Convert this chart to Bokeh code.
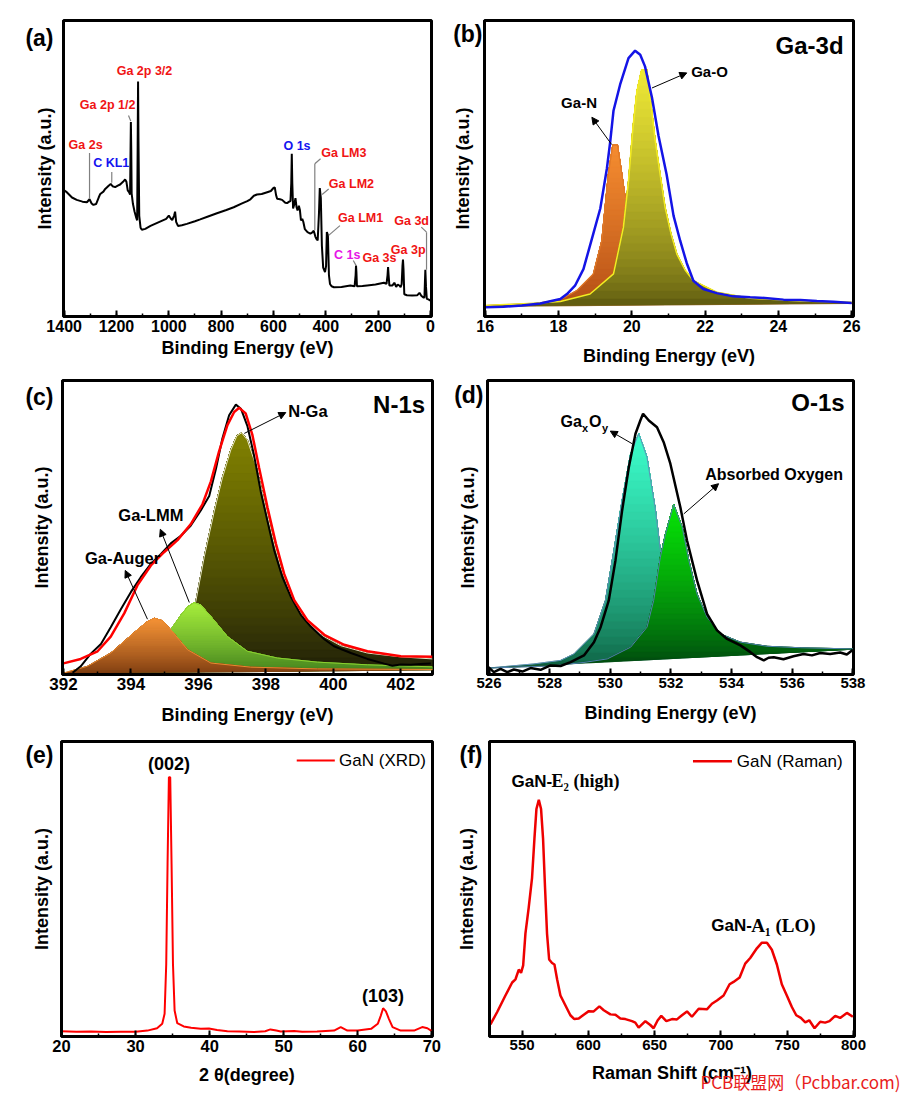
from bokeh.plotting import figure
from bokeh.models import (Range1d, SingleIntervalTicker, FixedTicker, Label, Arrow,
                          NormalHead, ColumnDataSource, LinearAxis)
from bokeh.layouts import column, row
from bokeh.embed import file_html
from bokeh.resources import INLINE
import numpy as np

SANS = "Liberation Sans"
SERIF = "Liberation Serif"

# ---------------- (a) survey spectrum ----------------
a_be = [1400, 1390, 1370, 1352, 1330, 1313, 1303, 1295, 1288, 1278, 1268, 1262, 1250, 1243, 1230, 1222,
        1215, 1205, 1195, 1186, 1175, 1167, 1162, 1157, 1152, 1148, 1146, 1145, 1143.5, 1142, 1137, 1131,
        1125, 1121, 1119, 1117.5, 1116, 1113, 1108, 1103, 1090, 1070, 1040, 1010, 1000, 992, 987, 980,
        976, 972, 965, 950, 931, 900, 880, 850, 816, 780, 752, 720, 700, 688, 675, 663, 645, 624, 610,
        600, 595, 590, 586, 575, 567, 555, 548, 540, 535, 532, 530, 528, 525, 520, 516, 512, 508, 503,
        499, 495, 490, 486, 480, 470, 459, 450, 446, 440, 436, 431, 426, 423, 419, 415, 410, 403, 399,
        396, 392, 388, 384, 378, 369, 340, 306, 290, 286, 284.5, 283, 281, 260, 242, 210, 178, 168, 164,
        162, 160, 157, 145, 138, 131, 125, 118, 114, 110, 107, 105, 103, 100, 90, 70, 50, 42, 35, 27,
        23, 21, 19.5, 17, 14, 8, 0]
a_int = [42.6, 42.0, 40.2, 39.4, 38.8, 38.6, 39.6, 38.2, 37.7, 38.0, 40.2, 41.4, 42.2, 43.1, 44.2, 44.8,
         44.0, 43.7, 44.2, 44.6, 45.5, 46.3, 45.5, 42.6, 42.0, 41.2, 58.0, 65.7, 56.0, 41.5, 38.0, 35.5,
         33.5, 32.5, 58.0, 79.4, 60.0, 34.0, 30.0, 29.3, 29.6, 30.6, 31.8, 33.0, 34.1, 33.0, 32.6, 34.0,
         35.4, 32.0, 30.6, 30.8, 31.3, 32.2, 32.8, 33.8, 34.9, 36.0, 36.9, 38.2, 39.0, 39.6, 40.8, 41.2,
         41.4, 42.0, 42.4, 43.4, 43.6, 41.0, 39.8, 39.6, 39.4, 38.4, 38.3, 38.8, 39.0, 45.0, 55.0, 45.0,
         36.5, 38.0, 40.0, 37.0, 35.8, 37.4, 36.0, 32.5, 33.0, 32.0, 29.5, 28.5, 28.0, 28.5, 29.0, 27.0,
         26.2, 25.7, 35.0, 43.4, 40.0, 24.0, 16.5, 15.0, 17.0, 28.5, 27.5, 14.0, 11.0, 10.2, 9.9, 10.0,
         10.5, 10.2, 14.0, 17.2, 15.0, 10.2, 10.3, 10.5, 10.8, 11.4, 11.0, 14.0, 16.7, 14.0, 10.5, 10.5,
         11.4, 10.0, 10.8, 10.4, 9.9, 11.0, 17.0, 19.2, 16.0, 7.5, 7.2, 7.1, 7.2, 8.0, 7.0, 6.4, 6.4,
         12.0, 15.8, 10.0, 6.0, 5.8, 5.4]
a_labels = ["Ga 2p 3/2", "Ga 2p 1/2", "Ga 2s", "C KL1", "O 1s", "Ga LM3", "Ga LM2", "Ga LM1",
            "Ga 3d", "Ga 3p", "C 1s", "Ga 3s"]
a_label_be = [1093, 1234, 1318, 1220, 510, 331, 302, 267, 72, 85, 318, 195]
a_label_int = [83.1, 71.3, 57.8, 51.8, 57.5, 55.3, 44.6, 33.2, 32.4, 22.5, 20.8, 19.7]
a_label_color = ["#f01414", "#f01414", "#f01414", "#1414f0", "#1414f0", "#f01414", "#f01414",
                 "#f01414", "#f01414", "#f01414", "#e614e6", "#f01414"]

# ---------------- (b) Ga-3d ----------------
b_env_be = [16.0, 16.5, 17.0, 17.5, 18.05, 18.23, 18.45, 18.68, 18.95, 19.14, 19.32, 19.41, 19.5, 19.68,
            19.91, 20.09, 20.23, 20.36, 20.55, 20.73, 20.95, 21.14, 21.32, 21.5, 21.68, 21.95, 22.32,
            22.77, 23.23, 23.7, 24.14, 24.6, 25.05, 25.5, 26.0]
b_env_int = [3.1, 3.3, 3.7, 4.4, 5.9, 7.6, 10.4, 16.0, 28.0, 36.5, 50.0, 59.0, 69.5, 78.3, 87.3, 89.8,
             88.4, 84.5, 74.0, 61.0, 48.0, 34.0, 25.6, 18.0, 12.1, 9.3, 7.9, 6.8, 6.5, 6.2, 5.7, 5.6,
             5.2, 5.0, 4.6]
b_gan_be = [16.0, 17.32, 18.05, 18.5, 18.95, 19.18, 19.27, 19.36, 19.48, 19.61, 19.73, 19.82, 19.95,
            20.14, 20.5, 21.23, 22.32, 26.0]
b_gan_int = [3.7, 4.3, 5.7, 8.8, 14.4, 25.6, 36.8, 48.0, 57.9, 57.9, 48.0, 40.2, 27.8, 17.7, 9.9, 5.9,
             4.8, 4.5]
b_gao_be = [16.0, 17.32, 18.05, 18.86, 19.5, 19.77, 19.91, 20.03, 20.14, 20.27, 20.41, 20.52, 20.64,
            20.78, 20.91, 21.07, 21.23, 21.45, 21.68, 22.32, 23.23, 24.59, 26.0]
b_gao_int = [3.7, 4.5, 5.1, 7.6, 14.4, 30.1, 45.8, 63.7, 76.1, 83.4, 83.4, 72.0, 59.3, 47.5, 36.8, 28.0,
             21.1, 15.8, 12.1, 8.2, 6.2, 5.2, 4.8]
b_base_be = [16.0, 26.0]
b_base_int = [3.4, 4.4]

# ---------------- (c) N-1s ----------------
c_raw_be = [392.27, 392.51, 392.81, 393.11, 393.4, 393.7, 394.0, 394.29, 394.59, 394.89, 395.18, 395.48,
            395.77, 396.07, 396.32, 396.52, 396.71, 396.91, 397.11, 397.26, 397.45, 397.65, 397.85,
            398.05, 398.25, 398.49, 398.74, 399.04, 399.33, 399.73, 400.02, 400.52, 401.01, 401.51,
            401.75, 402.0, 402.3, 402.59, 402.89]
c_raw_int = [0.6, 2.8, 7.1, 10.4, 16.1, 22.2, 28.1, 33.1, 37.6, 41.0, 44.6, 47.2, 50.6, 55.8, 60.7, 70.0,
             80.3, 88.2, 91.8, 90.4, 84.6, 74.5, 62.1, 52.0, 42.1, 33.1, 26.4, 20.2, 16.3, 12.0, 9.6,
             7.3, 5.3, 3.7, 3.0, 3.4, 3.3, 3.6, 3.7]
c_fit_be = [391.97, 392.51, 393.01, 393.4, 393.8, 394.19, 394.59, 394.98, 395.38, 395.77, 396.12,
            396.37, 396.61, 396.86, 397.06, 397.21, 397.4, 397.6, 397.8, 398.05, 398.3, 398.54, 398.84,
            399.23, 399.73, 400.32, 401.01, 402.0, 402.94]
c_fit_int = [3.7, 5.3, 7.9, 12.9, 20.8, 30.3, 37.1, 41.6, 45.7, 51.1, 57.9, 65.7, 75.8, 84.8, 89.3, 90.7,
             88.8, 81.5, 70.2, 56.7, 44.4, 34.3, 25.3, 18.5, 13.5, 10.1, 7.9, 6.2, 6.0]
c_nga_be = [391.97, 393.6, 394.59, 395.18, 395.68, 395.92, 396.17, 396.47, 396.71, 396.96, 397.14,
            397.28, 397.45, 397.7, 397.95, 398.2, 398.44, 398.74, 399.13, 399.63, 400.22, 401.01, 402.0,
            402.94]
c_nga_int = [0.4, 1.5, 2.8, 5.3, 10.7, 24.7, 39.9, 55.6, 66.9, 76.4, 81.2, 82.2, 79.8, 71.3, 59.0, 46.6,
             36.5, 27.0, 19.1, 13.5, 9.8, 7.3, 6.0, 5.3]
c_lmm_be = [391.97, 393.6, 394.39, 394.79, 395.18, 395.48, 395.68, 395.87, 396.07, 396.37, 396.86,
            397.45, 398.34, 399.53, 401.01, 402.94]
c_lmm_int = [0.3, 1.1, 2.6, 5.6, 15.2, 20.2, 23.0, 24.4, 23.6, 19.7, 12.9, 7.9, 5.6, 4.2, 3.3, 2.6]
c_aug_be = [391.97, 392.71, 393.4, 394.19, 394.49, 394.69, 394.93, 395.18, 395.68, 396.37, 397.55,
            399.53, 402.94]
c_aug_int = [0.4, 2.8, 7.3, 15.2, 18.0, 19.1, 18.3, 15.2, 8.4, 3.9, 2.5, 1.9, 1.7]
c_base_be = [391.97, 402.94]
c_base_int = [0.3, 1.6]

# ---------------- (d) O-1s ----------------
d_raw_be = [525.98, 526.16, 526.38, 526.6, 526.82, 527.1, 527.37, 527.7, 528.03, 528.36, 528.69, 529.13,
            529.46, 529.68, 529.95, 530.17, 530.39, 530.61, 530.83, 530.99, 531.08, 531.27, 531.54,
            531.76, 531.98, 532.31, 532.53, 532.86, 533.19, 533.52, 533.85, 534.29, 534.62, 534.84,
            535.06, 535.22, 535.39, 535.71, 536.04, 536.37, 536.65, 536.92, 537.25, 537.58, 537.8, 538.0]
d_raw_int = [2.5, 0.8, 1.9, 0.8, 1.7, 1.0, 2.2, 1.6, 3.1, 2.9, 4.2, 6.5, 11.0, 16.1, 25.2, 38.8, 55.8,
             70.5, 81.9, 86.4, 88.7, 86.4, 84.1, 79.0, 71.7, 56.9, 45.6, 32.0, 20.6, 15.0, 12.1, 9.9,
             7.6, 5.9, 4.8, 5.7, 5.9, 5.2, 6.2, 7.0, 6.5, 7.3, 7.0, 7.5, 6.8, 8.4]
d_gaxoy_be = [525.98, 527.48, 528.36, 528.8, 529.46, 529.84, 530.12, 530.39, 530.67, 530.94, 531.21,
              531.49, 531.65, 531.87, 532.15, 532.53, 533.08, 534.07, 535.71, 538.0]
d_gaxoy_int = [2.2, 3.6, 4.8, 7.0, 13.8, 25.2, 42.2, 59.2, 75.1, 81.9, 73.9, 55.8, 42.2, 28.6, 18.9,
               13.3, 10.4, 8.7, 8.2, 8.6]
d_abs_be = [525.98, 528.03, 529.13, 529.9, 530.67, 531.21, 531.43, 531.65, 531.82, 532.09, 532.37,
            532.59, 532.86, 533.19, 533.63, 534.29, 535.17, 536.26, 538.0]
d_abs_int = [2.2, 2.9, 4.1, 5.3, 9.3, 16.1, 25.2, 39.9, 47.8, 57.8, 50.1, 38.8, 27.4, 19.5, 13.8, 11.0,
             9.6, 9.1, 8.7]
d_base_be = [525.98, 538.0]
d_base_int = [2.2, 8.6]

# ---------------- (e) XRD ----------------
e_theta = [20.0, 22.0, 24.0, 26.0, 28.0, 30.0, 31.6, 32.9, 33.6, 33.92, 34.14, 34.32, 34.5, 34.68, 34.86,
           35.05, 35.27, 35.63, 36.5, 37.5, 38.8, 39.9, 41.0, 42.4, 44.0, 46.0, 47.5, 48.2, 49.0, 49.6,
           51.4, 52.5, 54.5, 56.8, 57.7, 58.6, 60.0, 61.8, 62.7, 63.1, 63.42, 63.8, 64.2, 64.7, 65.8,
           67.6, 68.7, 69.4, 70.0]
e_int = [1.8, 1.6, 1.7, 1.5, 1.6, 1.6, 2.0, 2.8, 4.3, 7.7, 24.6, 58.5, 87.9, 87.9, 58.5, 24.6, 8.8, 4.5,
         3.4, 3.0, 2.6, 2.7, 2.2, 1.8, 1.7, 1.5, 1.8, 2.4, 2.0, 1.7, 1.9, 1.6, 1.7, 2.0, 3.2, 2.0, 2.0,
         2.6, 4.3, 7.0, 9.6, 8.5, 6.0, 3.2, 2.0, 2.0, 3.2, 2.8, 1.8]

# ---------------- (f) Raman ----------------
f_shift = [526.1, 531.2, 537.4, 542.5, 545.0, 547.5, 549.2, 550.8, 552.5, 555.0, 557.5, 559.3, 560.8,
           562.6, 564.3, 565.8, 567.3, 568.8, 570.4, 572.6, 574.4, 576.4, 578.9, 582.7, 586.4, 589.4,
           592.7, 596.5, 600.3, 604.0, 608.3, 611.6, 616.6, 620.4, 624.1, 627.9, 632.9, 635.4, 637.9,
           643.0, 646.7, 649.2, 652.3, 655.0, 658.8, 663.1, 666.8, 670.6, 674.4, 678.1, 683.2, 689.4,
           693.2, 697.0, 702.0, 706.5, 709.5, 714.1, 718.3, 722.1, 727.1, 730.9, 734.7, 738.4, 742.2,
           745.9, 749.7, 753.5, 756.8, 760.3, 763.6, 766.6, 770.6, 774.9, 778.6, 781.9, 786.2, 789.9,
           795.0, 799.5]
f_int = [4.1, 8.3, 13.9, 18.3, 19.4, 22.7, 21.6, 24.1, 34.9, 43.8, 53.8, 67.1, 77.1, 80.2, 77.1, 67.1,
         50.4, 34.9, 26.1, 24.9, 24.4, 19.4, 13.9, 10.5, 7.2, 5.9, 6.1, 7.4, 8.6, 8.5, 10.2, 8.9, 7.5,
         7.4, 6.1, 5.9, 5.2, 4.7, 3.0, 5.2, 3.9, 2.8, 5.5, 7.0, 5.2, 5.9, 5.8, 7.2, 8.5, 6.7, 9.4, 9.2,
         11.1, 12.2, 13.9, 17.7, 18.5, 20.0, 24.7, 26.6, 29.9, 31.8, 31.8, 29.4, 24.4, 17.7, 13.9, 10.0,
         7.2, 6.3, 4.8, 5.5, 2.8, 5.0, 4.7, 5.2, 7.0, 6.3, 8.0, 6.7]

panel_letters = ["(a)", "(b)", "(c)", "(d)", "(e)", "(f)"]
watermark = "PCB联盟网（Pcbbar.com)"


# ---------------- helpers ----------------
def mix(c1, c2, t):
    a = [int(c1[i:i + 2], 16) for i in (1, 3, 5)]
    b = [int(c2[i:i + 2], 16) for i in (1, 3, 5)]
    return "#%02x%02x%02x" % tuple(int(round(a[k] + (b[k] - a[k]) * t)) for k in range(3))


def clip_above(px, py, y0):
    ox, oy = [], []
    n = len(px)
    for i in range(n):
        x1, y1 = px[i], py[i]
        x2, y2 = px[(i + 1) % n], py[(i + 1) % n]
        in1, in2 = y1 >= y0, y2 >= y0
        if in1:
            ox.append(x1)
            oy.append(y1)
        if in1 != in2:
            t = (y0 - y1) / (y2 - y1)
            ox.append(x1 + t * (x2 - x1))
            oy.append(y0)
    return ox, oy


def gradient_peak(p, xs, ys, base_x, base_y, c_top, c_bot, outline, n=30, lw=1.2, gamma=0.8):
    bx = [xs[-1], xs[0]]
    by = list(np.interp(bx, base_x, base_y))
    px = list(xs) + bx
    py = list(ys) + by
    ymin, ymax = min(py), max(py)
    XS, YS, COL = [], [], []
    for k in range(n):
        y0 = ymin + (ymax - ymin) * k / n
        cx, cy = (px, py) if k == 0 else clip_above(px, py, y0)
        if len(cx) < 3:
            continue
        XS.append(cx)
        YS.append(cy)
        COL.append(mix(c_bot, c_top, ((k + 0.5) / n) ** gamma))
    src = ColumnDataSource(dict(xs=XS, ys=YS, c=COL))
    p.patches("xs", "ys", source=src, fill_color="c", line_color="c", line_width=0.5)
    p.line(xs, ys, line_color=outline, line_width=lw)


def make_fig(w, h, bl, br, bt, bb, xr, major, nminor, tick_size, xlabel, xl_standoff,
             letter, letter_y, letter_standoff, yl_standoff):
    p = figure(width=w, height=h, x_range=Range1d(*xr), y_range=Range1d(0, 100),
               output_backend="svg", toolbar_location=None,
               min_border_left=bl, min_border_right=br, min_border_top=bt, min_border_bottom=bb)
    p.xgrid.visible = False
    p.ygrid.visible = False
    p.outline_line_color = "black"
    p.outline_line_width = 3
    p.outline_line_alpha = 1.0
    p.background_fill_color = "white"
    p.border_fill_color = "white"
    xa = p.xaxis[0]
    xa.ticker = SingleIntervalTicker(interval=major, num_minor_ticks=nminor)
    xa.major_tick_in = 6
    xa.major_tick_out = 0
    xa.minor_tick_in = 3
    xa.minor_tick_out = 0
    xa.major_tick_line_width = 2
    xa.minor_tick_line_width = 1.5
    xa.axis_line_width = 3
    xa.major_label_text_font = SANS
    xa.major_label_text_font_style = "bold"
    xa.major_label_text_font_size = f"{tick_size}px"
    xa.major_label_text_color = "black"
    xa.major_label_standoff = 3
    xa.axis_label = xlabel
    xa.axis_label_text_font = SANS
    xa.axis_label_text_font_style = "bold"
    xa.axis_label_text_font_size = "18px"
    xa.axis_label_text_color = "black"
    xa.axis_label_standoff = xl_standoff
    ya = p.yaxis[0]
    # the panel letter is drawn as the single tick label of the y axis
    ya.ticker = FixedTicker(ticks=[letter_y])
    ya.major_label_overrides = {letter_y: letter}
    ya.major_label_text_font = SANS
    ya.major_label_text_font_style = "bold"
    ya.major_label_text_font_size = "23px"
    ya.major_label_text_color = "black"
    ya.major_label_standoff = letter_standoff
    ya.major_tick_in = 0
    ya.major_tick_out = 0
    ya.minor_tick_in = 0
    ya.minor_tick_out = 0
    ya.axis_line_width = 3
    ya.axis_label = "Intensity (a.u.)"
    ya.axis_label_text_font = SANS
    ya.axis_label_text_font_style = "bold"
    ya.axis_label_text_font_size = "18px"
    ya.axis_label_text_color = "black"
    ya.axis_label_standoff = yl_standoff
    return p


def label(p, x, y, text, size, color="black", style="bold", align="center", font=SANS, xoff=0, yoff=0):
    p.add_layout(Label(x=x, y=y, text=text, text_font=font, text_font_size=f"{size}px",
                       text_font_style=style, text_color=color, text_align=align,
                       text_baseline="middle", x_offset=xoff, y_offset=yoff))


def arrow(p, x0, y0, x1, y1, head=True, color="black", lw=1.0):
    end = NormalHead(size=7, fill_color=color, line_color=color, line_width=1) if head else None
    p.add_layout(Arrow(end=end, x_start=x0, y_start=y0, x_end=x1, y_end=y1,
                       line_color=color, line_width=lw))


# ---------------- panel (a) ----------------
pa = make_fig(450, 370, 63, 19, 20, 54, (1402.5, -4), 200, 2, 16, "Binding Energy (eV)", 3,
              panel_letters[0], 94.0, 10, -33)
pa.line(a_be, a_int, line_color="black", line_width=2)
for (x0, y0, x1, y1) in [(1303, 55.2, 1303, 39.8), (1218, 48.8, 1218, 45.2), (1154, 67.9, 1145.5, 66.0),
                         (420, 53.3, 442, 51.6), (442, 51.6, 442, 29.1), (389, 43.1, 414, 41.2),
                         (346, 30.7, 389, 27.4), (35, 30.2, 15, 28.5), (15, 28.5, 15, 15.8),
                         (295, 18.9, 284, 17.2)]:
    arrow(pa, x0, y0, x1, y1, head=False, color="#808080", lw=1.2)
for t, x, y, c in zip(a_labels, a_label_be, a_label_int, a_label_color):
    label(pa, x, y, t, 12.5, color=c)

# ---------------- panel (b) ----------------
pb = make_fig(455, 370, 34, 52, 19, 54, (15.98, 26.05), 2, 2, 16, "Binding Energy (eV)", 11,
              panel_letters[1], 95.6, 2, -23)
gradient_peak(pb, b_gan_be, b_gan_int, b_base_be, b_base_int, "#f58c30", "#b04a14", "#e07a28")
gradient_peak(pb, b_gao_be, b_gao_int, b_base_be, b_base_int, "#eee836", "#58540e", "#f4ec22", lw=1.5,
              gamma=0.65)
pb.line(b_env_be, b_env_int, line_color="#1414e6", line_width=2.5)
arrow(pb, 19.45, 58.1, 18.91, 67.3)
arrow(pb, 20.55, 77.2, 21.5, 82.3)
label(pb, 18.56, 72.2, "Ga-N", 15)
label(pb, 21.62, 82.8, "Ga-O", 15, align="left")
label(pb, 24.85, 91.5, "Ga-3d", 24)

# ---------------- panel (c) ----------------
pc = make_fig(450, 360, 62, 18, 8, 55, (391.97, 402.94), 2, 2, 17, "Binding Energy (eV)", 12,
              panel_letters[2], 94.3, 9, -30)
gradient_peak(pc, c_nga_be, c_nga_int, c_base_be, c_base_int, "#828200", "#1c1c08", "#e8e8c8", lw=1.0)
gradient_peak(pc, c_lmm_be, c_lmm_int, c_base_be, c_base_int, "#a6ee3c", "#3c7a1c", "#8cd030", lw=1.0)
gradient_peak(pc, c_aug_be, c_aug_int, c_base_be, c_base_int, "#f49236", "#7a3a10", "#e88a30", lw=1.0)
pc.line(c_raw_be, c_raw_int, line_color="black", line_width=2)
pc.line(c_fit_be, c_fit_int, line_color="#ff0000", line_width=2.5)
arrow(pc, 397.36, 82.0, 398.59, 89.1)
arrow(pc, 395.73, 24.5, 394.87, 49.4)
arrow(pc, 394.49, 18.8, 393.83, 35.4)
label(pc, 398.66, 89.7, "N-Ga", 16.5, align="left")
label(pc, 394.59, 54.3, "Ga-LMM", 16.5)
label(pc, 393.75, 39.7, "Ga-Auger", 16.5)
label(pc, 401.95, 91.8, "N-1s", 24)

# ---------------- panel (d) ----------------
pd_ = make_fig(455, 360, 37, 52, 10, 56, (525.95, 538.02), 2, 2, 15, "Binding Energy (eV)", 12,
               panel_letters[3], 94.9, 4, -27)
gradient_peak(pd_, d_gaxoy_be, d_gaxoy_int, d_base_be, d_base_int, "#3cffcc", "#0c5a3c", "#6090b8", lw=1.0,
              gamma=0.7)
gradient_peak(pd_, d_abs_be, d_abs_int, d_base_be, d_base_int, "#06e406", "#003a10", "#5080b0", lw=1.0,
              gamma=0.7)
pd_.line(d_raw_be, d_raw_int, line_color="black", line_width=2.5)
arrow(pd_, 530.72, 78.5, 530.0, 82.8)
arrow(pd_, 532.42, 54.6, 533.57, 64.9)
label(pd_, 528.36, 86.2, "Ga", 16, align="left")
label(pd_, 528.36, 86.2, "x", 11, align="left", xoff=21.5, yoff=-7)
label(pd_, 528.36, 86.2, "O", 16, align="left", xoff=28.5)
label(pd_, 528.36, 86.2, "y", 11, align="left", xoff=41.5, yoff=-7)
label(pd_, 533.13, 68.0, "Absorbed Oxygen", 16, align="left")
label(pd_, 536.85, 92.4, "O-1s", 24)

# ---------------- panel (e) ----------------
pe = make_fig(450, 369, 61, 18, 11, 63, (20.0, 70.09), 10, 2, 16.5, "2 \u03b8(degree)", 10,
              panel_letters[4], 95.3, 8, -30)
pe.line(e_theta, e_int, line_color="#ff0000", line_width=2)
pe.line([51.76, 56.9], [93.6, 93.6], line_color="#ff0000", line_width=2)
label(pe, 57.48, 93.6, "GaN (XRD)", 17, style="normal", align="left")
label(pe, 34.5, 92.4, "(002)", 18)
label(pe, 63.42, 13.7, "(103)", 18)

# ---------------- panel (f) ----------------
pf = make_fig(455, 369, 39, 51, 11, 57, (525.4, 800.75), 50, 2, 15, "Raman Shift (cm\u207b\u00b9)", 10,
              panel_letters[5], 95.3, 7, -20)
pf.line(f_shift, f_int, line_color="#ee0000", line_width=2.5)
pf.line([678.9, 708.3], [93.3, 93.3], line_color="#ee0000", line_width=2.5)
label(pf, 712.0, 93.3, "GaN (Raman)", 17, style="normal", align="left")
label(pf, 542.0, 86.5, "GaN-", 17, align="left")
label(pf, 542.0, 86.5, "E\u2082 (high)", 18, align="left", font=SERIF, xoff=40)
label(pf, 692.7, 37.5, "GaN-", 17, align="left")
label(pf, 692.7, 37.5, "A\u2081 (LO)", 19, align="left", font=SERIF, xoff=40)
# watermark drawn as the single tick label of an extra, otherwise invisible, bottom axis
wm_axis = LinearAxis(ticker=FixedTicker(ticks=[760.0]), major_label_overrides={760.0: watermark},
                     axis_line_color=None, major_tick_line_color=None, minor_tick_line_color=None,
                     major_tick_in=0, major_tick_out=0, minor_tick_in=0, minor_tick_out=0,
                     major_label_text_font="Noto Sans CJK SC", major_label_text_font_size="17px",
                     major_label_text_color="#e81c1c", major_label_standoff=-17)
pf.add_layout(wm_axis, "below")

layout = column(row(pa, pb), row(pc, pd_), row(pe, pf))
open("out.html", "w").write(file_html(layout, INLINE))
